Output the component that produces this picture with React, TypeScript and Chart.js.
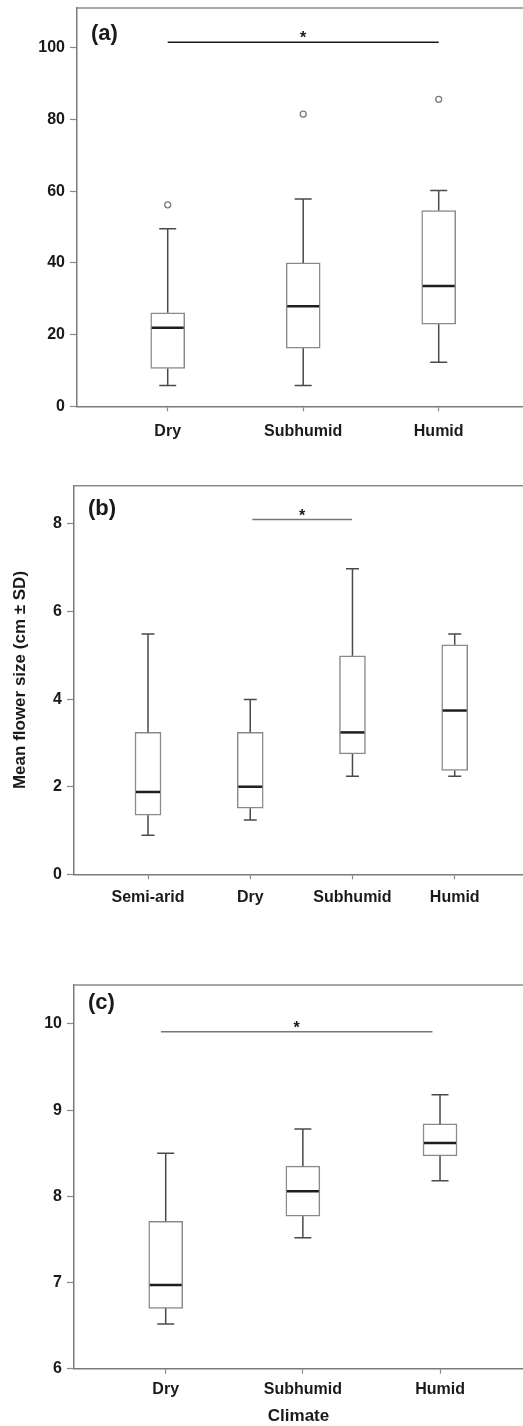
import React, { useEffect, useRef } from "react";
import { Chart, registerables } from "chart.js";

Chart.register(...registerables);

// ---------- Panel (a) ----------
const aCategories = ["Dry", "Subhumid", "Humid"];
const aLow = [5.8, 5.8, 12.3];
const aQ1 = [10.6, 16.2, 22.9];
const aMedian = [21.9, 27.9, 33.6];
const aQ3 = [26.1, 40.0, 54.6];
const aHigh = [49.5, 57.8, 60.2];
const aOutliers = [56.2, 81.5, 85.6];
const aYTicks = [0, 20, 40, 60, 80, 100];
const aSig = { from: 1, to: 3, y: 101.5 };

// ---------- Panel (b) ----------
const bCategories = ["Semi-arid", "Dry", "Subhumid", "Humid"];
const bLow = [0.89, 1.24, 2.24, 2.24];
const bQ1 = [1.35, 1.51, 2.75, 2.37];
const bMedian = [1.88, 2.0, 3.24, 3.74];
const bQ3 = [3.24, 3.24, 4.99, 5.24];
const bHigh = [5.49, 3.99, 6.98, 5.49];
const bYTicks = [0, 2, 4, 6, 8];
const bSig = { from: 2.02, to: 2.995, y: 8.1 };

// ---------- Panel (c) ----------
const cCategories = ["Dry", "Subhumid", "Humid"];
const cLow = [6.52, 7.52, 8.18];
const cQ1 = [6.7, 7.77, 8.47];
const cMedian = [6.97, 8.06, 8.62];
const cQ3 = [7.71, 8.35, 8.84];
const cHigh = [8.5, 8.78, 9.18];
const cYTicks = [6, 7, 8, 9, 10];
const cSig = { from: 0.965, to: 2.945, y: 9.91 };

const FONT = "'Liberation Sans', Arial, Helvetica, sans-serif";

type Panel = {
  top: number;
  height: number;
  padTop: number;
  yWidth: number;
  xHeight: number;
  categories: string[];
  low: number[];
  q1: number[];
  med: number[];
  q3: number[];
  high: number[];
  outliers: number[] | null;
  yTicks: number[];
  yMin: number;
  yMax: number;
  xMin: number;
  xMax: number;
  barPx: number;
  label: string;
  labelDY: number;
  sig: { from: number; to: number; y: number };
  sigColor: string;
  xPad: number;
  yTitle?: string;
  xTitle?: string;
};

const panels: Panel[] = [
  {
    top: 0, height: 470, padTop: 8, yWidth: 77, xHeight: 63.6,
    categories: aCategories, low: aLow, q1: aQ1, med: aMedian, q3: aQ3, high: aHigh,
    outliers: aOutliers, yTicks: aYTicks, yMin: 0, yMax: 111.07, xMin: 0.3306, xMax: 3.6221,
    barPx: 34, label: "(a)", labelDY: 26, sig: aSig, sigColor: "#1a1a1a", xPad: 11,
  },
  {
    top: 480, height: 470, padTop: 5.7, yWidth: 74, xHeight: 75.7,
    categories: bCategories, low: bLow, q1: bQ1, med: bMedian, q3: bQ3, high: bHigh,
    outliers: null, yTicks: bYTicks, yMin: 0, yMax: 8.874, xMin: 0.2761, xMax: 4.668,
    barPx: 26, label: "(b)", labelDY: 23.3, sig: bSig, sigColor: "#777", xPad: 9,
    yTitle: "Mean flower size (cm ± SD)",
  },
  {
    top: 960, height: 466, padTop: 25, yWidth: 74, xHeight: 57.3,
    categories: cCategories, low: cLow, q1: cQ1, med: cMedian, q3: cQ3, high: cHigh,
    outliers: null, yTicks: cYTicks, yMin: 6, yMax: 10.452, xMin: 0.3314, xMax: 3.605,
    barPx: 34, label: "(c)", labelDY: 18.3, sig: cSig, sigColor: "#777", xPad: 6,
    xTitle: "Climate",
  },
];

function makeExtras(p: Panel) {
  return {
    id: "boxExtras",
    afterDatasetsDraw(chart: any) {
      const { ctx, chartArea: a } = chart;
      const x = chart.scales.x;
      const y = chart.scales.y;
      ctx.save();
      // top frame line
      ctx.strokeStyle = "#8a8a8a";
      ctx.lineWidth = 1.5;
      ctx.beginPath();
      ctx.moveTo(a.left, a.top);
      ctx.lineTo(a.right, a.top);
      ctx.stroke();

      const half = p.barPx / 2;
      const cap = p.barPx / 4;
      p.categories.forEach((_, i) => {
        const cx = x.getPixelForValue(i + 1);
        const yHigh = y.getPixelForValue(p.high[i]);
        const yLow = y.getPixelForValue(p.low[i]);
        const yQ1 = y.getPixelForValue(p.q1[i]);
        const yQ3 = y.getPixelForValue(p.q3[i]);
        const yMed = y.getPixelForValue(p.med[i]);
        ctx.strokeStyle = "#4a4a4a";
        ctx.lineWidth = 1.5;
        ctx.beginPath();
        ctx.moveTo(cx, yQ3);
        ctx.lineTo(cx, yHigh);
        ctx.moveTo(cx - cap, yHigh);
        ctx.lineTo(cx + cap, yHigh);
        ctx.moveTo(cx, yQ1);
        ctx.lineTo(cx, yLow);
        ctx.moveTo(cx - cap, yLow);
        ctx.lineTo(cx + cap, yLow);
        ctx.stroke();
        ctx.strokeStyle = "#1e1e1e";
        ctx.lineWidth = 2.5;
        ctx.beginPath();
        ctx.moveTo(cx - half + 1, yMed);
        ctx.lineTo(cx + half - 1, yMed);
        ctx.stroke();
      });

      // significance line
      const sx1 = x.getPixelForValue(p.sig.from);
      const sx2 = x.getPixelForValue(p.sig.to);
      const sy = y.getPixelForValue(p.sig.y);
      ctx.strokeStyle = p.sigColor;
      ctx.lineWidth = 1.5;
      ctx.beginPath();
      ctx.moveTo(sx1, sy);
      ctx.lineTo(sx2, sy);
      ctx.stroke();
      ctx.fillStyle = "#1a1a1a";
      ctx.font = `bold 16px ${FONT}`;
      ctx.textAlign = "center";
      ctx.textBaseline = "alphabetic";
      ctx.fillText("*", (sx1 + sx2) / 2, sy + 1);

      // panel label
      ctx.font = `bold 22px ${FONT}`;
      ctx.textAlign = "left";
      ctx.textBaseline = "middle";
      ctx.fillText(p.label, a.left + 14, a.top + p.labelDY);
      ctx.restore();
    },
  };
}

function BoxPanel({ p }: { p: Panel }) {
  const ref = useRef<HTMLCanvasElement>(null);
  useEffect(() => {
    const datasets: any[] = [
      {
        type: "bar",
        data: p.categories.map((_, i) => ({ x: i + 1, y: [p.q1[i], p.q3[i]] })),
        backgroundColor: "#ffffff",
        borderColor: "#8a8a8a",
        borderWidth: 1.5,
        borderSkipped: false,
        barThickness: p.barPx,
        order: 2,
      },
    ];
    if (p.outliers) {
      datasets.push({
        type: "scatter",
        data: p.outliers.map((v, i) => ({ x: i + 1, y: v })),
        pointRadius: 3,
        pointBackgroundColor: "#ffffff",
        pointBorderColor: "#7a7a7a",
        pointBorderWidth: 1.3,
        order: 1,
      });
    }
    const chart = new Chart(ref.current as HTMLCanvasElement, {
      type: "bar",
      data: { datasets },
      options: {
        animation: false,
        responsive: false,
        layout: { autoPadding: false, padding: { top: p.padTop, left: 0, right: 0, bottom: 0 } },
        plugins: { legend: { display: false }, tooltip: { enabled: false } },
        scales: {
          x: {
            type: "linear",
            min: p.xMin,
            max: p.xMax,
            offset: false,
            afterBuildTicks: (s: any) => {
              s.ticks = p.categories.map((_, i) => ({ value: i + 1 }));
            },
            afterFit: (s: any) => {
              s.height = p.xHeight;
              s.paddingLeft = 0;
              s.paddingRight = 0;
            },
            ticks: {
              autoSkip: false,
              maxRotation: 0,
              padding: p.xPad,
              color: "#1a1a1a",
              font: { family: FONT, weight: "bold", size: 16 },
              callback: (v: any) => p.categories[Math.round(v) - 1] ?? "",
            },
            grid: {
              display: true,
              offset: false,
              drawOnChartArea: false,
              drawTicks: true,
              tickLength: 5,
              tickColor: "#8a8a8a",
              tickWidth: 1.2,
            },
            border: { display: true, color: "#7a7a7a", width: 1.5 },
            title: p.xTitle
              ? {
                  display: true,
                  text: p.xTitle,
                  color: "#1a1a1a",
                  font: { family: FONT, weight: "bold", size: 17, lineHeight: 1.1 },
                  padding: { top: 0, bottom: 0 },
                }
              : { display: false },
          },
          y: {
            type: "linear",
            min: p.yMin,
            max: p.yMax,
            beginAtZero: false,
            afterBuildTicks: (s: any) => {
              s.ticks = p.yTicks.map((v) => ({ value: v }));
            },
            afterFit: (s: any) => {
              s.width = p.yWidth;
              s.paddingTop = 0;
              s.paddingBottom = 0;
            },
            ticks: {
              padding: 5,
              color: "#1a1a1a",
              font: { family: FONT, weight: "bold", size: 16 },
              callback: (v: any) => String(v),
            },
            grid: {
              display: true,
              drawOnChartArea: false,
              drawTicks: true,
              tickLength: 7,
              tickColor: "#8a8a8a",
              tickWidth: 1.2,
            },
            border: { display: true, color: "#7a7a7a", width: 1.5 },
            title: p.yTitle
              ? {
                  display: true,
                  text: p.yTitle,
                  color: "#1a1a1a",
                  font: { family: FONT, weight: "bold", size: 17 },
                  padding: { top: 10, bottom: 0 },
                }
              : { display: false },
          },
        },
      } as any,
      plugins: [makeExtras(p)],
    });
    return () => chart.destroy();
  }, []);
  return (
    <div style={{ position: "absolute", left: 0, top: p.top, width: 523, height: p.height }}>
      <canvas ref={ref} width={523} height={p.height} style={{ display: "block" }} />
    </div>
  );
}

export default function App() {
  return (
    <div style={{ position: "absolute", left: 0, top: 0, width: 523, height: 1426, background: "#fff" }}>
      {panels.map((p, i) => (
        <BoxPanel key={i} p={p} />
      ))}
    </div>
  );
}
